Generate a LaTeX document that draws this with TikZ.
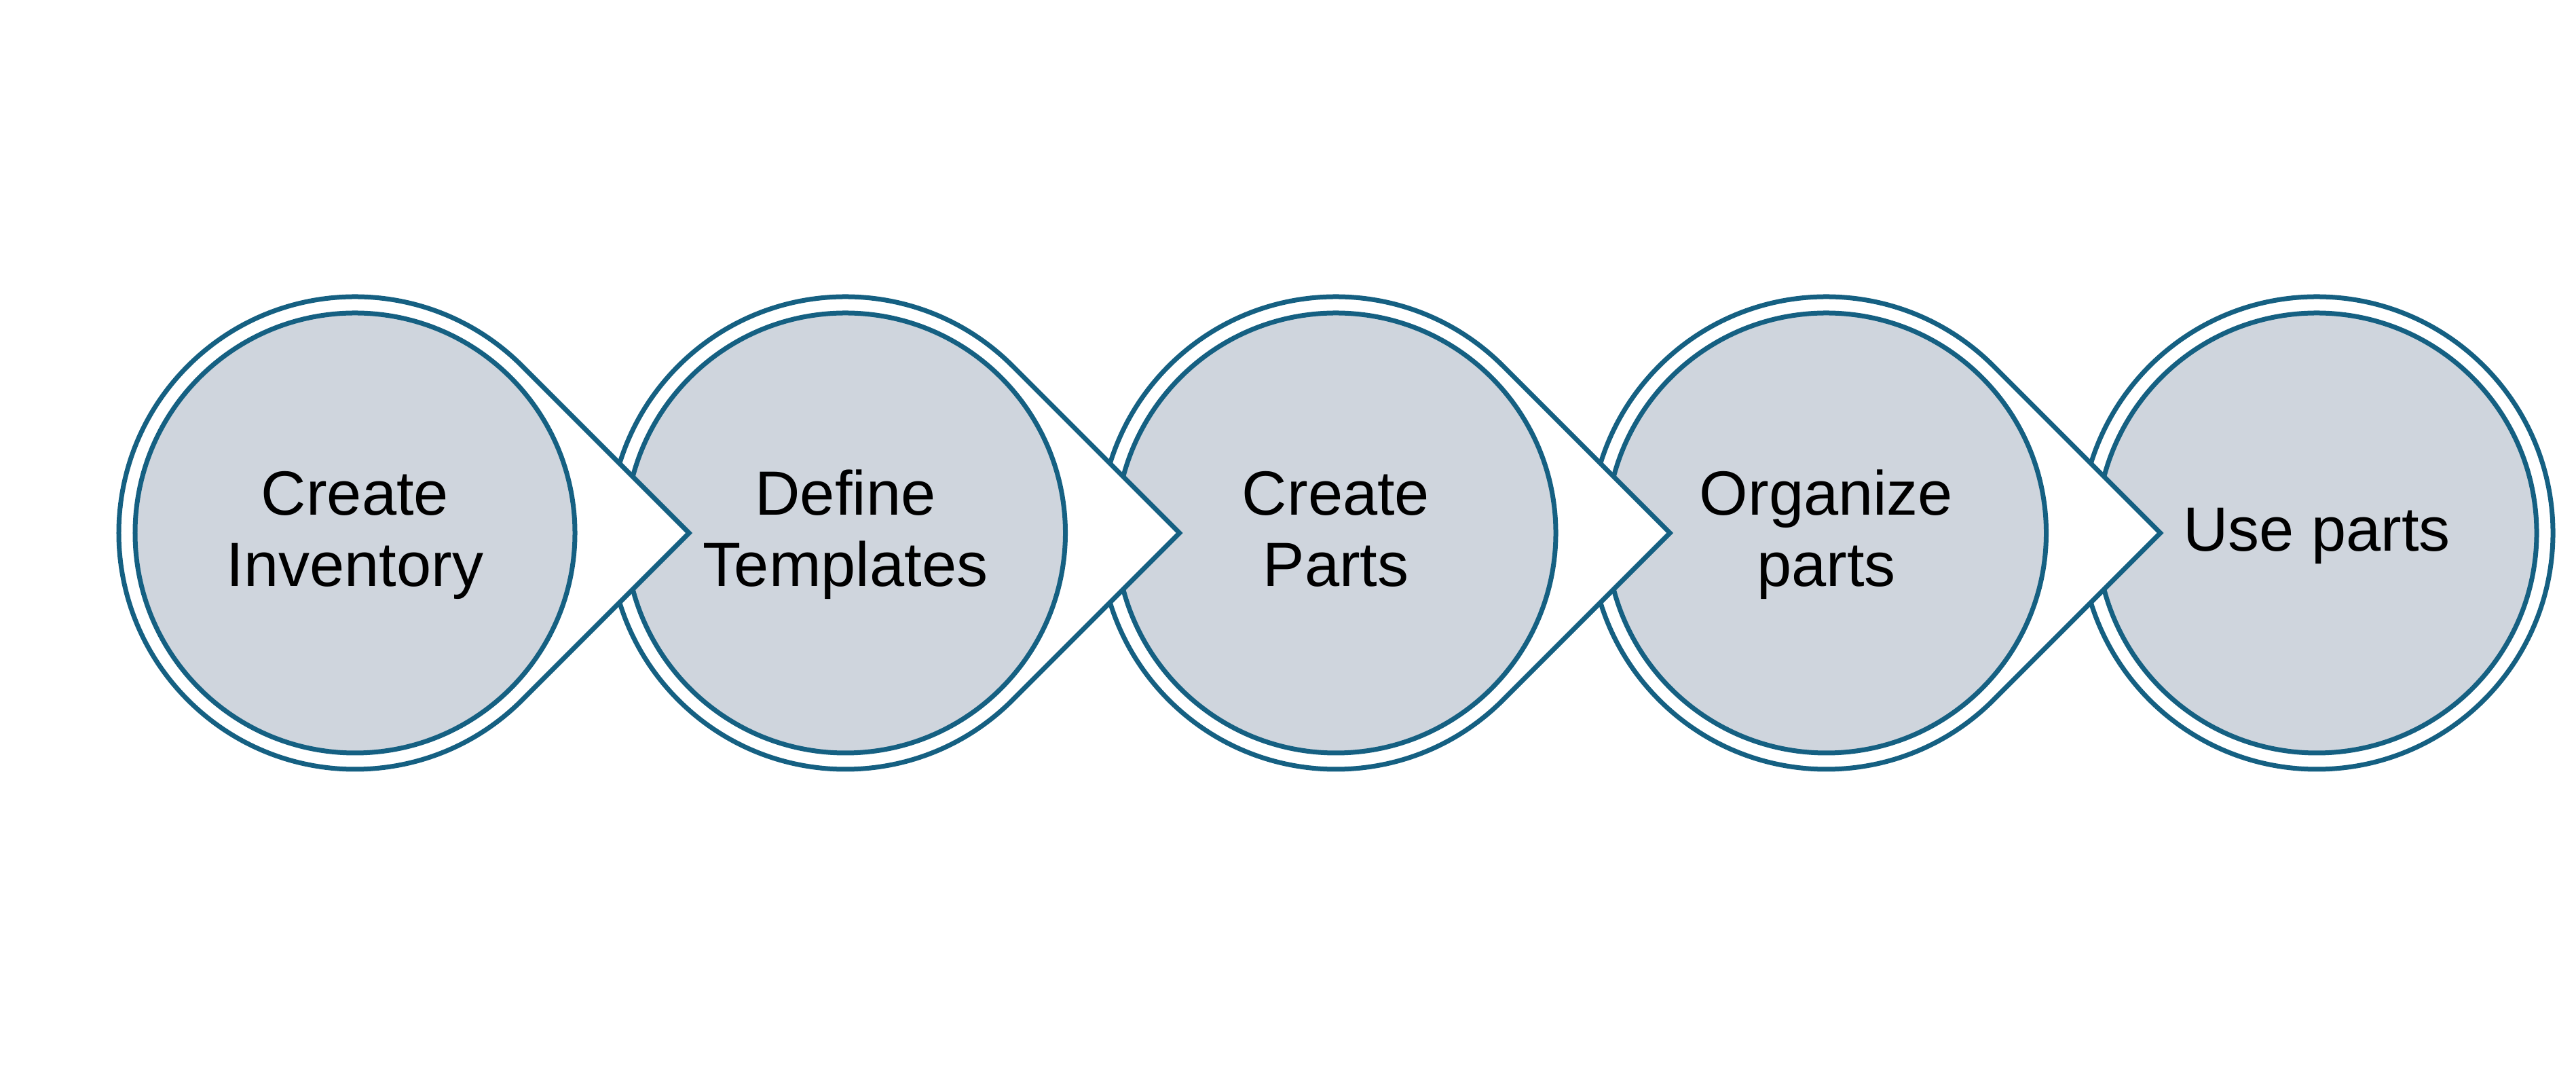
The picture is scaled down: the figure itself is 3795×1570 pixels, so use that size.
\documentclass[tikz,border=0pt]{standalone}
\usepackage{fontspec}
\setmainfont{Liberation Sans}
\definecolor{ring}{HTML}{156082}
\definecolor{disk}{HTML}{CFD5DD}
\newcommand\topstrut{\rule{0pt}{16.9pt}}
\begin{document}
\begin{tikzpicture}[x=0.2pt,y=0.2pt,
  outer/.style={draw=ring,fill=white,line width=1.4pt,line join=miter},
  stage/.style={circle,draw=ring,fill=disk,line width=1.4pt,
    minimum size=129.6pt,inner sep=0pt,text=black,align=center,
    font=\fontsize{18.4}{21}\selectfont}]
\path[use as bounding box] (0,0) rectangle (3795,1570);
\coordinate (c1) at (523,785);
\coordinate (c2) at (1245.5,785);
\coordinate (c3) at (1968,785);
\coordinate (c4) at (2690.5,785);
\coordinate (c5) at (3413,785);
% stage 5
\draw[outer] (c5) circle[radius=69.6pt];
\node[stage] (s5) at (c5) {\topstrut Use parts\strut};
% stages 4..1 with arrow points
\foreach \i/\t in {4/{\topstrut Organize\\parts\strut},3/{\topstrut Create\\Parts\strut},2/{\topstrut Define\\Templates\strut},1/{\topstrut Create\\Inventory\strut}}{
  \draw[outer] ([shift={(98.43pt,0pt)}]c\i) -- ([shift={(45:69.6pt)}]c\i)
    arc[start angle=45,end angle=315,radius=69.6pt] -- cycle;
  \node[stage] (s\i) at (c\i) {\t};
}
\end{tikzpicture}
\end{document}
